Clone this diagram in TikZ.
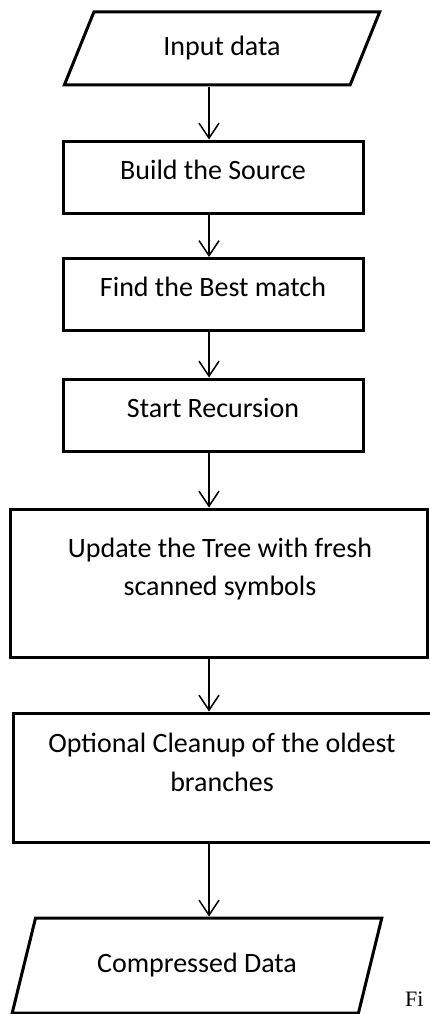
\documentclass[tikz,border=0pt]{standalone}
\usepackage{fontspec}
\setmainfont{Carlito}
\newfontfamily\capfont{Liberation Serif}
\usetikzlibrary{shapes.geometric, arrows.meta}

\tikzset{
  stepbox/.style={draw, line width=3pt, minimum width=300pt, minimum height=72pt, text height=20pt, text depth=16pt},
  bigbox/.style={draw, line width=3pt},
  iobox/.style={draw, line width=3pt, trapezium, trapezium stretches=true},
  flow/.style={->, line width=1.5pt},
}

\begin{document}
\begin{tikzpicture}[x=1pt, y=-1pt, font=\fontsize{28}{38.5}\selectfont, >={Straight Barb[length=15pt, width=20pt]}]
  \useasboundingbox (0,0) rectangle (429,1014);
  \coordinate (spine) at (209,0);

  \node[iobox, trapezium left angle=65, trapezium right angle=115, minimum width=316pt, minimum height=73pt] (input) at (222,48.5) {Input data};
  \node[stepbox] (build) at (213,177) {Build the Source};
  \node[stepbox] (find) at (213,294.5) {Find the Best match};
  \node[stepbox] (recursion) at (213,415) {Start Recursion};

  \node[bigbox, minimum width=417pt, minimum height=148pt] (update) at (218.5,583) {};
  \node[align=center] (updatetext) at (220,569) {Update the Tree with fresh\\scanned symbols};

  \node[bigbox, minimum width=432pt, minimum height=129pt] (cleanup) at (229,777.5) {};
  \node[align=center] (cleanuptext) at (222,762.5) {Optional Cleanup of the oldest\\branches};

  \node[iobox, trapezium left angle=64, trapezium right angle=116, minimum width=370pt, minimum height=95pt] (output) at (197,965.5) {Compressed Data};

  \node[anchor=base west, font=\capfont\fontsize{22}{26}\selectfont, inner sep=0pt] (caption) at (405,1006) {Fi};

  % the arrows all run down one vertical line
  \draw[flow] (input.south -| spine) -- (build.north -| spine);
  \draw[flow] (build.south -| spine) -- (find.north -| spine);
  \draw[flow] (find.south -| spine) -- (recursion.north -| spine);
  \draw[flow] (recursion.south -| spine) -- (update.north -| spine);
  \draw[flow] (update.south -| spine) -- (cleanup.north -| spine);
  \draw[flow] (cleanup.south -| spine) -- (output.north -| spine);
\end{tikzpicture}
\end{document}
